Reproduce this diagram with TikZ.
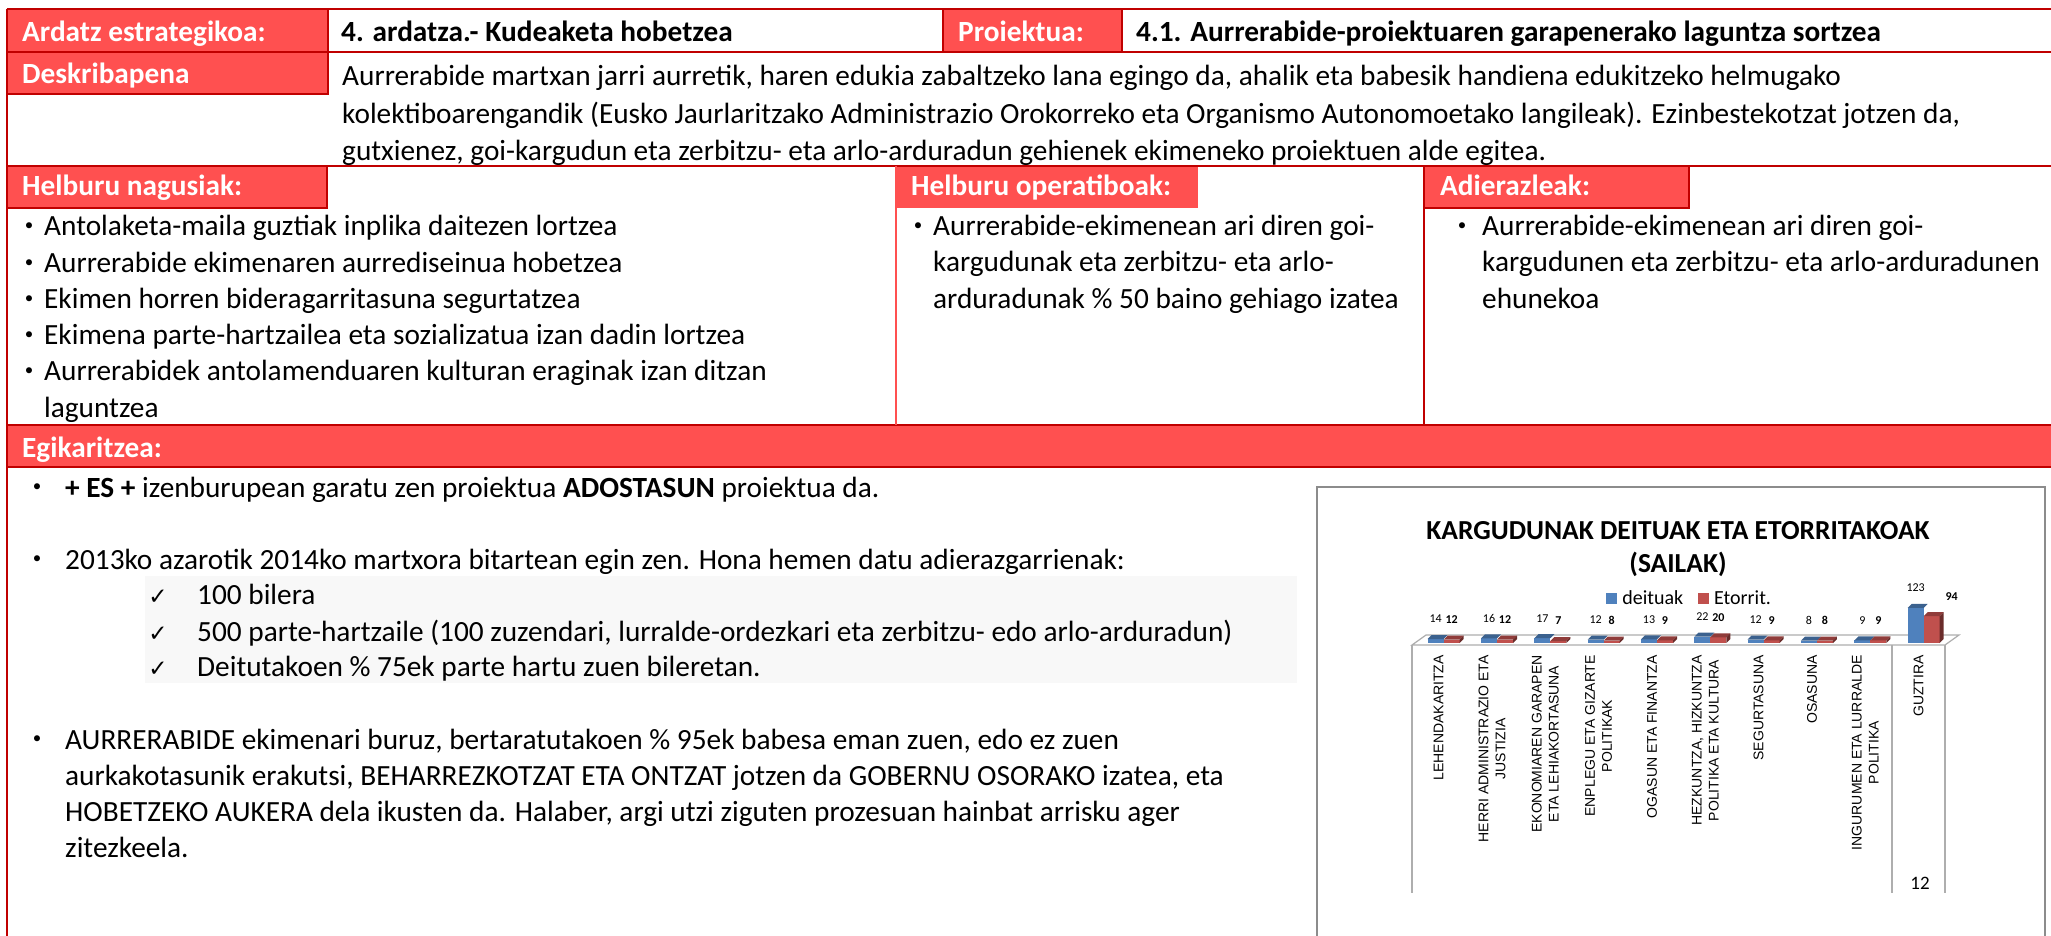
\documentclass[tikz,border=0pt]{standalone}
\usepackage{fontspec}
\setmainfont{Carlito}
\newfontfamily\chartfont{Liberation Sans}
\newfontfamily\checkfont{DejaVu Sans}
\usetikzlibrary{positioning}
\definecolor{rim}{HTML}{C00000}
\definecolor{hot}{HTML}{FF5050}
\definecolor{barblue}{HTML}{4F81BD}
\definecolor{barred}{HTML}{C0504D}
\definecolor{frame}{HTML}{8C8C8C}
\definecolor{paleback}{HTML}{F8F8F8}

\begin{document}
\begin{tikzpicture}[x=1pt,y=-1pt,
  headtext/.style={anchor=base west,inner sep=0pt,text=white,font=\fontsize{29.3}{35}\selectfont\bfseries},
  celltext/.style={anchor=base west,inner sep=0pt,font=\fontsize{29.3}{35}\selectfont\bfseries},
  bodytext/.style={anchor=base west,inner sep=0pt,font=\fontsize{29.3}{35}\selectfont},
  bulletmark/.style={anchor=center,yshift=9pt,inner sep=0pt,font=\fontsize{17}{20}\selectfont},
  checkmark/.style={anchor=base,inner sep=0pt,font=\checkfont\fontsize{23}{26}\selectfont},
  rimline/.style={draw=rim,line width=2.2pt},
  catlabel/.style={rotate=90,anchor=east,align=center,inner sep=0pt,font=\chartfont\fontsize{14}{17}\selectfont},
  vallabel/.style={inner sep=0pt,font=\fontsize{12}{14}\selectfont},
  legendtext/.style={anchor=west,inner sep=0pt,font=\fontsize{20}{24}\selectfont}]
\useasboundingbox (0,0) rectangle (2051,936);

\fill[hot] (6.7,9.3) rectangle (328,52);
\fill[hot] (943,9.3) rectangle (1122,52);
\fill[hot] (6.7,52) rectangle (328,94);
\fill[hot] (6.7,166) rectangle (327,208);
\fill[hot] (896,166) rectangle (1198,208);
\fill[hot] (1424,166) rectangle (1689,208);
\fill[hot] (6.7,425) rectangle (2051,467);
\fill[paleback] (145,576) rectangle (1297,683);

\draw[rimline] (6.7,9.3) -- (2051,9.3) (6.7,52) -- (2051,52) (6.7,166) -- (2051,166)
  (6.7,425) -- (2051,425) (6.7,467) -- (2051,467) (6.7,9.3) -- (6.7,936);
\draw[rimline] (328,9.3) -- (328,94) -- (6.7,94) (943,9.3) -- (943,52) (1122,9.3) -- (1122,52);
\draw[rimline] (6.7,208) -- (327,208) -- (327,166);
\draw[rimline] (1424,166) -- (1424,425) (1424,208) -- (1689,208) -- (1689,166);
\draw[hot,line width=1.5pt] (896,166) -- (896,425);

\node[headtext] (ardatz) at (22,42) {Ardatz estrategikoa:};
\node[celltext] (ardatzval) at (341,42) {4. ardatza.- Kudeaketa hobetzea};
\node[headtext] (proiektu) at (958,42) {Proiektua:};
\node[celltext] (proiektuval) at (1136,42) {4.1. Aurrerabide-proiektuaren garapenerako laguntza sortzea};
\node[headtext] (deskr) at (22,84) {Deskribapena};
\node[bodytext] (deskr-1) at (342,86) {Aurrerabide martxan jarri aurretik, haren edukia zabaltzeko lana egingo da, ahalik eta babesik handiena edukitzeko helmugako};
\node[bodytext] (deskr-2) at (342,124) {kolektiboarengandik (Eusko Jaurlaritzako Administrazio Orokorreko eta Organismo Autonomoetako langileak). Ezinbestekotzat jotzen da,};
\node[bodytext] (deskr-3) at (342,161) {gutxienez, goi-kargudun eta zerbitzu- eta arlo-arduradun gehienek ekimeneko proiektuen alde egitea.};

\node[headtext] (nagusi) at (22,196) {Helburu nagusiak:};
\node[headtext] (operatibo) at (911,196) {Helburu operatiboak:};
\node[headtext] (adierazle) at (1440,196) {Adierazleak:};
\foreach \k/\t in {1/{Antolaketa-maila guztiak inplika daitezen lortzea},
    2/{Aurrerabide ekimenaren aurrediseinua hobetzea},
    3/{Ekimen horren bideragarritasuna segurtatzea},
    4/{Ekimena parte-hartzailea eta sozializatua izan dadin lortzea},
    5/{Aurrerabidek antolamenduaren kulturan eraginak izan ditzan}} {
  \node[bulletmark] (nagusi-b\k) at (29,{236+36.2*(\k-1)}) {\textbullet};
  \node[bodytext] (nagusi-\k) at (44,{236+36.2*(\k-1)}) {\t};
}
\node[bodytext] (nagusi-6) at (44,417) {laguntzea};
\node[bulletmark] (operatibo-b) at (918,236) {\textbullet};
\node[bodytext] (operatibo-1) at (933,236) {Aurrerabide-ekimenean ari diren goi-};
\node[bodytext] (operatibo-2) at (933,272) {kargudunak eta zerbitzu- eta arlo-};
\node[bodytext] (operatibo-3) at (933,308) {arduradunak \% 50 baino gehiago izatea};
\node[bulletmark] (adierazle-b) at (1462,236) {\textbullet};
\node[bodytext] (adierazle-1) at (1482,236) {Aurrerabide-ekimenean ari diren goi-};
\node[bodytext] (adierazle-2) at (1482,272) {kargudunen eta zerbitzu- eta arlo-arduradunen};
\node[bodytext] (adierazle-3) at (1482,308) {ehunekoa};

\node[headtext] (egikari) at (22,457) {Egikaritzea:};
\node[bulletmark] (egin-b1) at (37,497) {\textbullet};
\node[bodytext] (egin-1) at (65,497) {\textbf{+ ES +} izenburupean garatu zen proiektua \textbf{ADOSTASUN} proiektua da.};
\node[bulletmark] (egin-b2) at (37,569) {\textbullet};
\node[bodytext] (egin-2) at (65,569) {2013ko azarotik 2014ko martxora bitartean egin zen. Hona hemen datu adierazgarrienak:};
\foreach \k/\y/\t in {1/604/{100 bilera},
    2/641/{500 parte-hartzaile (100 zuzendari, lurralde-ordezkari eta zerbitzu- edo arlo-arduradun)},
    3/676/{Deitutakoen \% 75ek parte hartu zuen bileretan.}} {
  \node[checkmark] (datu-c\k) at (158,\y) {✓};
  \node[bodytext] (datu-\k) at (197,\y) {\t};
}
\node[bulletmark] (egin-b3) at (37,749) {\textbullet};
\node[bodytext] (egin-3) at (65,749) {AURRERABIDE ekimenari buruz, bertaratutakoen \% 95ek babesa eman zuen, edo ez zuen};
\node[bodytext] (egin-4) at (65,785) {aurkakotasunik erakutsi, BEHARREZKOTZAT ETA ONTZAT jotzen da GOBERNU OSORAKO izatea, eta};
\node[bodytext] (egin-5) at (65,821) {HOBETZEKO AUKERA dela ikusten da. Halaber, argi utzi ziguten prozesuan hainbat arrisku ager};
\node[bodytext] (egin-6) at (65,857) {zitezkeela.};

\draw[frame,line width=2pt] (1317,940) -- (1317,487) -- (2045,487) -- (2045,940);
\node[font=\fontsize{27.5}{33}\selectfont\bfseries,align=center] (title) at (1678,549)
  {KARGUDUNAK DEITUAK ETA ETORRITAKOAK\\(SAILAK)};
\node[fill=barblue,minimum size=11pt,inner sep=0pt] (sq-a) at (1611.5,598) {};
\node[legendtext,right=5pt of sq-a] (leg-a) {deituak};
\node[fill=barred,minimum size=11pt,inner sep=0pt,right=14pt of leg-a] (sq-b) {};
\node[legendtext,right=5pt of sq-b] (leg-b) {Etorrit.};

\draw[frame!70,line width=1.2pt,fill=white] (1412,645) -- (1945,645) -- (1959,635) -- (1426,635) -- cycle;
\draw[frame!70,line width=1.2pt] (1412,645) -- (1412,893) (1892,645) -- (1892,893) (1945,645) -- (1945,893);
\foreach \i/\a/\b/\o/\t in {0/14/12/13/{LEHENDAKARITZA},
    1/16/12/13/{HERRI ADMINISTRAZIO ETA\\JUSTIZIA},
    2/17/7/13/{EKONOMIAREN GARAPEN\\ETA LEHIAKORTASUNA},
    3/12/8/13/{ENPLEGU ETA GIZARTE\\POLITIKAK},
    4/13/9/13/{OGASUN ETA FINANTZA},
    5/22/20/13/{HEZKUNTZA, HIZKUNTZA\\POLITIKA ETA KULTURA},
    6/12/9/13/{SEGURTASUNA},
    7/8/8/13/{OSASUNA},
    8/9/9/13/{INGURUMEN ETA LURRALDE\\POLITIKA},
    9/123/94/33/{GUZTIRA}} {
  \pgfmathsetmacro\c{1412+53.33*(\i+0.5)}
  \pgfmathsetmacro\ha{\a*0.285}
  \pgfmathsetmacro\hb{\b*0.285}
  \fill[barblue] ({\c-11},643) rectangle ({\c+5},{643-\ha});
  \fill[barblue!75!black] ({\c-11},{643-\ha}) -- ({\c-7},{639-\ha}) -- ({\c+9},{639-\ha}) -- ({\c+5},{643-\ha}) -- cycle;
  \fill[barred] ({\c+5},643) rectangle ({\c+21},{643-\hb});
  \fill[barred!75!black] ({\c+5},{643-\hb}) -- ({\c+9},{639-\hb}) -- ({\c+25},{639-\hb}) -- ({\c+21},{643-\hb}) -- cycle;
  \fill[barred!55!black] ({\c+21},643) -- ({\c+25},639) -- ({\c+25},{639-\hb}) -- ({\c+21},{643-\hb}) -- cycle;
  \node[vallabel] (va-\i) at ({\c-3},{623-\ha}) {\a};
  \node[vallabel,font=\fontsize{12}{14}\selectfont\bfseries] (vb-\i) at ({\c+\o},{623-\hb}) {\b};
  \node[catlabel] (cat-\i) at (\c,655) {\t};
}
\node[font=\fontsize{19}{22}\selectfont] (total) at (1920,883) {12};
\end{tikzpicture}
\end{document}
